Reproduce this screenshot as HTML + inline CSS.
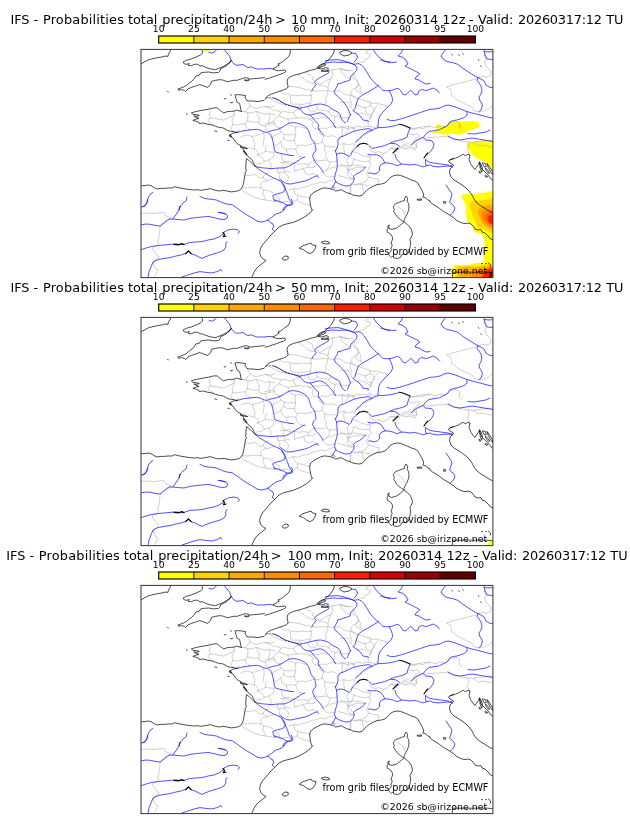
<!DOCTYPE html>
<html><head><meta charset="utf-8"><title>IFS probabilities</title>
<style>
html,body{margin:0;padding:0;background:#fff;}
body{width:630px;height:828px;overflow:hidden;position:relative;font-family:"DejaVu Sans","Liberation Sans",sans-serif;color:#000;}
svg{position:absolute;left:0;top:0;}
svg text{font-family:"DejaVu Sans","Liberation Sans",sans-serif;fill:#000;}
.t{font-size:12.88px;}
.k{font-size:9.2px;}
.c{font-size:9.6px;}
.c2{font-size:9.45px;}
</style></head><body>
<svg width="630" height="828" viewBox="0 0 630 828">
<defs>
<clipPath id="clip"><rect x="141" y="49.4" width="351.9" height="228.2"/></clipPath>
<g id="map" fill="none" stroke-linejoin="round" stroke-linecap="round">
<g stroke="#a0a0a0" stroke-width="0.5"><polyline points="447.0,87.0 452.0,85.0 458.0,83.6 464.0,82.0 470.0,80.4 476.0,79.0 479.0,77.6 482.0,76.0 486.0,77.0 490.0,76.0 491.0,72.0 489.0,69.0 486.0,66.0 485.0,62.0 486.0,58.0 484.0,55.0 485.0,52.0"/>
<polyline points="447.0,87.0 450.0,89.0 452.0,93.0 451.0,95.0 455.0,98.0 459.0,101.0 463.0,103.0 467.0,105.0 470.0,106.0 473.0,108.0 475.0,111.0 479.0,112.0 484.0,111.0 489.0,109.0 492.0,106.0 494.0,105.0"/>
<polyline points="140.0,213.6 147.0,213.0 153.0,213.6 159.0,213.0 164.0,212.4 166.0,216.0 169.0,217.0 171.0,218.4 168.0,221.0 163.0,223.6 160.0,227.0 159.6,232.0 159.0,237.0 157.6,241.0 159.0,244.0 155.0,246.4 152.0,248.0 154.0,252.0 157.0,255.0 159.0,257.0 156.0,260.0 153.0,262.0 155.0,268.0 158.0,270.0 156.0,274.0 154.0,278.0"/>
<polyline points="210.0,111.4 209.3,115.0 210.7,117.9 207.9,119.3 208.6,122.1 211.4,123.6 213.6,125.0"/>
<polyline points="210.7,117.9 215.0,118.6 219.3,119.3 223.6,120.0 227.9,117.9 231.4,116.4 234.3,114.3 234.3,111.4"/>
<polyline points="234.3,113.6 233.6,117.1 232.1,120.7 232.9,124.3 231.4,127.9 232.1,130.7"/>
<polyline points="232.9,124.3 236.4,125.0 240.7,124.3 245.0,123.6 245.7,126.4 247.9,128.6 250.7,130.0"/>
<polyline points="246.4,100.7 248.6,102.9 250.0,105.7 247.9,108.6 246.4,111.4 243.6,111.4"/>
<polyline points="243.6,111.4 247.9,112.9 247.9,117.1 247.1,120.7 245.7,123.6"/>
<polyline points="247.9,112.9 252.1,112.6 256.4,111.4 260.7,112.9 265.0,114.3 269.3,113.6 275.0,115.0"/>
<polyline points="250.0,105.7 255.0,108.6 259.3,107.9 265.0,106.4 270.7,107.1 275.0,105.7"/>
<polyline points="259.3,118.6 258.6,122.1 260.0,125.0 265.0,125.7 269.3,124.3 275.0,123.6"/>
<polyline points="247.1,120.7 252.1,122.1 258.6,122.1"/>
<polyline points="269.3,113.6 270.0,117.1 268.6,120.7 269.3,124.3"/>
<polyline points="240.7,137.1 243.6,135.7 247.9,135.0 252.1,136.4 256.4,135.7 260.7,134.3 263.6,132.9"/>
<polyline points="263.6,132.9 264.3,137.1 263.6,141.4 262.9,145.7"/>
<polyline points="252.1,136.4 253.6,140.0 255.0,144.3 254.3,148.6"/>
<polyline points="265.0,125.7 266.4,129.3 267.1,132.1"/>
<polyline points="256.4,111.4 259.3,118.6"/>
<polyline points="306.4,71.7 307.9,74.3 310.7,75.4 312.9,77.1 312.1,79.3 315.0,81.1 318.1,82.9 319.3,85.0 322.1,85.7 325.7,86.4 327.9,87.9 328.6,90.7 332.1,91.4 335.7,91.1 339.3,90.7 342.1,92.1 344.3,94.3 347.9,95.0 352.1,95.7 355.0,96.9"/>
<polyline points="297.9,74.3 300.7,76.4 304.3,78.6 307.1,81.4 310.7,82.9 313.6,83.6"/>
<polyline points="288.1,87.1 292.1,86.4 296.4,87.1 300.7,87.9 305.0,89.3 309.3,90.0 312.9,90.3"/>
<polyline points="280.0,91.1 282.1,93.6 285.0,94.3 288.6,93.6 290.0,95.0 294.3,95.4 299.3,95.7 303.6,95.0 307.9,95.7 311.4,95.4"/>
<polyline points="311.4,90.7 310.7,94.3 311.4,97.9 310.7,101.4 310.0,105.7"/>
<polyline points="290.0,95.0 290.7,99.3 290.4,102.9 293.6,104.3 297.9,104.0 302.1,104.6 306.4,103.6 310.7,102.9"/>
<polyline points="311.4,90.7 316.4,91.1 322.1,90.7 327.9,90.7"/>
<polyline points="327.9,90.7 327.1,94.3 325.7,97.9 326.4,101.4 325.0,104.3"/>
<polyline points="269.3,98.3 273.6,100.7 277.9,102.9 282.1,104.3 286.4,105.4"/>
<polyline points="327.9,70.7 332.1,70.0 336.4,69.3 340.7,68.6 345.0,70.0 349.3,70.7"/>
<polyline points="332.1,70.0 332.9,74.3 331.4,77.9 329.3,81.4 327.9,87.9"/>
<polyline points="340.7,68.6 341.4,72.9 345.0,75.7 349.3,78.6"/>
<polyline points="319.3,85.0 325.0,81.4 331.4,77.9"/>
<polyline points="265.0,106.4 269.3,107.9 272.9,110.0 277.1,110.7 280.7,112.1 285.0,111.4 289.3,112.9 293.6,112.1 295.7,110.0 298.6,108.6"/>
<polyline points="293.6,112.1 294.3,115.7 297.1,117.9 300.7,117.1 303.6,118.6 306.4,117.9 309.3,119.3"/>
<polyline points="280.7,112.1 279.3,115.7 275.7,117.9 273.6,121.4 269.3,122.9 265.0,123.6"/>
<polyline points="279.3,115.7 283.6,117.9 287.9,119.3 292.1,118.6 297.1,117.9"/>
<polyline points="287.9,119.3 288.6,122.9 290.7,125.7 295.7,127.1 299.3,126.4 303.6,127.9 306.4,128.6"/>
<polyline points="273.6,121.4 275.0,125.7 279.3,127.9 282.9,127.1"/>
<polyline points="295.7,127.1 295.0,131.4 295.7,135.7 294.3,140.0 295.0,143.6 297.9,145.7 302.1,145.0 306.4,145.7 310.7,144.3"/>
<polyline points="279.3,127.9 280.7,132.1 284.3,134.3 288.6,135.0 292.9,134.3 295.3,135.7"/>
<polyline points="280.7,132.1 277.1,135.0 273.6,135.7 272.4,139.3"/>
<polyline points="284.3,134.3 283.6,138.6 280.7,142.1 277.9,144.3 274.3,145.7"/>
<polyline points="283.6,138.6 287.9,140.7 294.3,140.3"/>
<polyline points="280.7,142.1 282.1,147.1 286.4,149.3 291.4,148.6 295.7,149.3 297.9,145.7"/>
<polyline points="286.4,149.3 287.1,152.9 290.0,155.4"/>
<polyline points="295.7,149.3 297.1,153.6 300.0,156.4 302.4,157.1"/>
<polyline points="309.3,119.3 312.9,121.4 312.1,125.7 314.3,128.6 318.6,129.3"/>
<polyline points="309.3,119.3 313.6,117.9 317.9,118.6 322.1,117.1 326.4,117.9 328.6,118.3"/>
<polyline points="318.6,129.3 322.1,127.9 326.4,128.6 330.0,127.1 334.3,126.4"/>
<polyline points="318.6,129.3 320.0,133.6 323.6,135.7 327.9,136.4 332.1,135.7 336.4,137.4"/>
<polyline points="310.7,144.3 314.3,142.9 318.6,143.6 322.1,142.1 323.6,135.7"/>
<polyline points="322.1,142.1 325.0,145.7 329.3,147.1 333.6,146.4 337.1,147.9"/>
<polyline points="325.0,145.7 324.3,150.0 326.4,153.6 325.7,157.1 327.9,160.0"/>
<polyline points="316.4,104.3 317.1,108.6 320.7,110.7 325.0,110.0 328.6,111.4 331.4,108.6"/>
<polyline points="328.6,111.4 330.7,115.0 335.0,116.4 339.3,115.7 340.7,117.1"/>
<polyline points="335.0,116.4 334.3,121.4 334.3,126.4"/>
<polyline points="340.7,117.1 345.0,117.9 349.3,117.1"/>
<polyline points="334.3,126.4 338.6,127.9 342.9,127.1 347.1,128.6 351.4,127.9 355.0,128.6"/>
<polyline points="342.9,127.1 342.1,132.1 342.1,136.9"/>
<polyline points="307.9,106.4 308.6,110.0 311.4,112.1 315.0,111.4 317.1,108.6"/>
<polygon points="297.1,107.1 298.6,106.0 300.7,106.4 301.4,108.3 300.0,109.7 297.9,109.3"/>
<polyline points="241.4,188.6 242.9,191.4 245.7,192.9 249.3,194.3 252.9,196.4 257.1,198.1 261.4,199.3 265.7,200.0 270.0,200.7 274.3,201.4 280.0,202.1 285.7,201.4 290.0,202.1"/>
<polyline points="242.9,187.9 247.1,187.9 251.4,187.6 256.4,187.1 261.4,187.9 263.6,190.0 262.9,193.6 264.3,196.4 265.7,200.0"/>
<polyline points="245.7,175.0 249.3,175.7 253.6,174.3 257.1,175.7 260.0,178.6 262.9,177.6"/>
<polyline points="261.4,187.9 260.7,183.6 262.9,181.4 267.1,180.7 271.4,179.3 274.3,178.1"/>
<polyline points="262.9,177.6 265.0,174.3 268.6,172.9"/>
<polyline points="262.9,177.6 267.1,180.7"/>
<polyline points="263.6,190.0 268.6,190.7 272.9,192.9"/>
<polyline points="274.3,195.0 278.6,197.1 280.0,202.1"/>
<polyline points="255.0,165.7 257.9,162.9 261.4,163.6 264.3,161.4 262.9,158.6 260.0,156.4 257.1,155.0 258.6,152.1 256.4,150.0 252.9,148.6 248.6,147.9"/>
<polyline points="264.3,161.4 268.6,160.0 272.9,157.9 274.0,155.0 274.0,152.1"/>
<polyline points="268.6,160.0 270.7,163.6 271.4,168.6"/>
<polyline points="257.1,155.0 261.4,153.6 265.7,151.4 270.0,152.1 274.0,152.1"/>
<polyline points="265.7,151.4 265.0,147.9 267.1,145.0"/>
<polyline points="277.1,168.1 277.9,172.1 280.0,175.0 279.3,178.6"/>
<polyline points="277.9,172.1 282.9,172.9 287.1,171.4 290.0,172.1"/>
<polyline points="281.4,154.3 282.1,158.6 284.3,162.1 282.9,165.7 282.9,167.9"/>
<polyline points="284.3,162.1 290.0,161.4"/>
<polyline points="294.3,171.4 298.6,170.0 303.6,168.6 307.9,167.1 312.1,167.9 315.7,165.7"/>
<polyline points="303.6,168.6 305.0,172.9 308.6,175.0 312.9,173.6"/>
<polyline points="322.9,172.1 325.7,175.7 329.3,177.1 335.0,176.4"/>
<polyline points="322.9,172.1 327.1,170.0 331.4,167.9 336.9,166.4"/>
<polyline points="314.3,160.0 320.0,160.7 325.7,160.0 330.0,162.1 336.9,161.4"/>
<polyline points="330.0,162.1 329.3,165.7 327.1,170.0"/>
<polyline points="288.6,190.0 293.6,188.6 298.6,189.3 302.9,187.1 307.9,186.4 312.1,184.3 316.4,183.6 320.7,182.1 325.7,182.9 329.3,180.7 334.6,179.3"/>
<polyline points="293.6,188.6 294.3,192.9 297.9,195.7 302.9,196.4 307.1,197.9 310.0,197.9"/>
<polyline points="297.9,195.7 297.1,200.0 293.6,202.1 292.6,204.3"/>
<polyline points="297.1,200.0 301.4,202.9 306.4,204.3 310.7,205.7"/>
<polyline points="337.9,175.7 342.1,176.4 347.1,177.9 351.4,179.3 354.0,178.6"/>
<polyline points="348.6,156.4 347.1,161.4 348.6,165.7 347.1,170.0 350.0,173.6 353.6,176.4"/>
<polyline points="348.6,165.7 354.3,165.0 360.0,165.7 365.4,167.1"/>
<polyline points="351.4,184.3 350.7,189.3 350.0,193.6"/>
<polyline points="351.4,184.3 357.1,185.0 362.1,184.3 367.1,185.7 370.0,185.0"/>
<polyline points="362.1,184.3 362.9,189.3 364.3,192.9"/>
<polyline points="337.9,166.4 342.9,165.7 348.6,165.7"/>
<polyline points="352.1,151.4 357.1,152.9 361.4,155.0 365.7,156.4 370.0,157.1"/>
<polyline points="280.0,162.9 285.0,162.1 289.3,163.6 294.3,162.9 298.6,164.3 303.6,163.6 308.6,164.3 314.3,160.0"/>
<polyline points="294.3,162.9 294.3,171.4"/>
<polyline points="284.3,167.9 285.0,172.9 288.6,176.4 287.9,180.7"/>
<polyline points="308.6,164.3 307.9,167.1"/>
<polyline points="312.9,173.6 317.4,175.7"/>
<polyline points="340.0,68.6 344.3,70.0 348.6,70.7 352.9,70.3"/>
<polyline points="354.3,74.3 355.0,77.9 357.9,80.7 358.6,84.3 356.9,87.1 353.6,88.6 351.4,91.4 350.7,94.3 353.6,96.9 356.4,97.9"/>
<polyline points="358.6,84.3 360.7,87.1 360.0,90.7 361.4,93.6"/>
<polyline points="356.4,97.9 360.7,99.3 365.0,100.7 369.3,102.1 372.9,103.6 376.4,102.9 380.7,104.3 385.7,105.4 387.9,107.9"/>
<polyline points="350.7,94.3 350.0,98.6 351.4,102.9 350.7,107.1 353.1,110.7"/>
<polyline points="369.3,102.1 370.7,105.7 373.6,107.9 374.3,111.4 371.4,114.3 370.7,118.6"/>
<polyline points="356.0,105.0 360.0,106.4 365.0,107.9 370.7,105.7"/>
<polyline points="365.0,107.9 365.7,111.4 368.6,114.3 371.4,114.3"/>
<polyline points="340.0,102.9 344.3,102.1 350.0,102.9"/>
<polyline points="367.1,120.7 368.6,124.3 370.7,126.4 374.3,127.9 377.9,126.4"/>
<polyline points="372.1,131.0 367.9,133.1 363.6,136.0 360.0,138.9 356.4,141.7 354.3,145.0 356.4,147.1"/>
<polyline points="340.0,126.4 344.3,127.1 348.6,126.4 352.9,127.9 357.1,126.4 361.4,127.1 367.1,126.4 370.7,126.4"/>
<polyline points="348.6,126.4 347.9,130.7 345.0,133.6"/>
<polyline points="352.9,127.9 354.3,131.4"/>
<polyline points="368.6,121.4 370.7,117.9 372.1,113.6 374.3,110.0 376.4,106.4 377.9,105.0"/>
<polyline points="357.1,113.6 361.4,112.9 365.7,114.3 370.7,117.9"/>
<polyline points="340.0,144.3 344.3,143.6 348.6,145.0 352.9,143.6 354.3,145.0"/>
<polyline points="344.3,143.6 343.6,147.9 345.0,154.3"/>
<polyline points="410.0,127.9 414.3,129.3 418.6,127.9 422.9,128.6 427.1,126.4 430.0,127.1"/>
<polyline points="408.6,133.6 412.9,135.0 417.1,133.6 420.0,135.7 415.7,138.6 412.9,141.4 417.1,146.4 414.3,147.9"/>
<polyline points="369.3,146.4 370.7,150.7 375.0,152.9 378.6,151.4 382.9,153.6 387.1,152.1 390.7,147.9 394.3,149.3 397.1,152.1"/>
<polyline points="402.9,147.9 405.7,145.7 410.0,146.4 414.3,147.9"/>
<polyline points="368.6,154.3 370.7,157.9 369.3,161.4 371.4,164.3 369.3,167.1 367.9,170.7 366.4,174.3 368.6,177.1 374.3,178.6 379.3,180.0 377.9,183.6 375.7,185.4"/>
<polyline points="353.6,158.6 358.6,160.7 363.6,161.4 369.3,161.4"/>
<polyline points="348.6,170.0 352.9,168.6 357.1,167.1 361.4,167.9 365.7,167.1"/>
<polyline points="348.6,170.0 347.1,174.3 350.0,177.9 353.6,178.6"/>
<polyline points="354.3,184.3 360.0,183.6 365.0,182.1 368.6,177.1"/>
<polyline points="350.0,186.4 350.7,191.4 350.0,194.0"/>
<polyline points="340.0,164.3 344.3,165.7 348.6,170.0"/>
<polyline points="353.6,158.6 352.9,162.9 348.6,170.0"/>
<polyline points="390.0,149.0 394.0,148.0 399.0,150.0 402.0,145.6 407.0,143.6 412.0,144.4 416.0,141.0 420.0,139.6 423.0,138.0 430.0,137.6 438.0,137.0 446.0,136.4 450.0,138.0 456.0,140.0 462.0,141.0 468.0,142.0 474.0,142.4 482.0,141.0 490.0,140.4 494.0,140.0"/>
<polyline points="468.0,142.0 469.0,147.0 467.0,150.0 470.0,155.0"/>
<polyline points="474.0,142.4 478.0,146.0 484.0,145.0 490.0,147.0 494.0,146.0"/>
<polyline points="402.0,145.6 404.0,149.0 410.0,148.0 415.0,150.0 417.0,147.0 416.0,141.0"/>
<polyline points="410.0,129.6 416.0,128.0 422.0,127.0 430.0,126.0 436.0,128.0 440.0,126.0 446.0,127.0 450.0,123.0 456.0,121.0 460.0,124.0 459.0,128.0 462.0,131.0"/>
<polyline points="396.8,206.1 399.5,207.7 402.2,209.9 404.0,212.6 404.5,214.9"/>
<polyline points="369.4,49.9 366.7,51.0 365.6,52.7 368.3,53.8 370.6,55.4 369.4,57.7 366.1,58.8 365.0,61.0 362.2,62.4 358.9,62.7"/>
<polyline points="353.3,73.8 351.7,76.6 354.4,79.3 357.2,81.0 358.9,84.3 357.2,87.1 355.6,88.8 357.2,91.6 360.6,93.2"/></g>
<g stroke="#1818ff" stroke-width="0.75"><polyline points="209.0,52.4 212.0,53.2 215.0,51.6 217.0,49.0"/>
<polyline points="223.6,49.0 227.0,53.0 229.6,56.0 231.0,60.4 229.0,63.0 228.4,63.6"/>
<polyline points="231.0,60.4 233.6,63.6 236.4,65.2 240.0,65.0 243.0,64.4 245.0,66.0 248.0,67.6 251.0,66.8 254.0,68.0 258.0,69.2 261.0,68.8 264.0,69.2 268.0,68.4 273.0,68.8"/>
<polyline points="273.6,97.9 277.1,99.3 280.7,101.4 284.3,103.6 287.9,105.0 291.4,106.0 295.0,106.9 298.6,107.9 299.3,108.3 301.4,110.7 303.6,113.1 306.4,114.6 310.0,115.0 313.6,114.3 317.1,113.1 320.7,112.9 323.6,114.0 326.4,116.0 328.6,118.3 330.7,120.7 332.9,123.1 334.3,125.7 335.7,127.9"/>
<polyline points="299.3,108.3 303.6,107.4 307.9,106.4 312.1,105.4 316.4,104.3 320.7,104.0 325.0,105.0 328.6,106.4 331.4,108.6 335.0,110.7 337.9,112.1 340.0,114.3 340.7,117.1 342.1,120.0 344.3,122.1 345.7,122.6"/>
<polyline points="310.0,115.0 312.1,117.1 314.3,120.0 316.4,122.1 318.6,124.6 318.1,127.9 320.0,130.7 322.1,133.6 323.6,135.0"/>
<polyline points="238.0,131.0 237.1,132.6 240.0,131.7 243.6,130.7 247.9,130.3 252.1,129.7 256.4,129.3 260.0,130.0 262.9,131.4 266.4,132.6 268.6,131.7 272.1,130.7 276.4,129.7 280.0,128.6 283.6,126.4 286.4,124.6 290.0,122.9 293.6,122.6 297.1,123.1 300.7,124.3 304.3,126.0 307.1,128.3 308.6,130.7 309.6,133.6 310.4,136.4 311.4,138.9 313.6,141.4 315.0,144.3 315.7,147.9 316.1,150.7 313.6,152.9 312.6,156.4 314.3,160.0 316.4,163.6 319.3,166.4 321.4,169.3 322.9,172.1"/>
<polyline points="268.6,133.1 271.4,135.7 272.4,139.3 273.3,142.9 273.9,146.4 274.3,150.0 275.7,152.1 279.3,153.1 282.9,154.0 286.4,154.6 290.0,155.4 293.6,155.7"/>
<polyline points="256.0,166.7 260.0,167.6 265.7,168.1 271.4,168.6 277.1,168.1 284.3,167.9 288.6,166.4 292.1,164.3 295.7,162.1 299.3,160.0 302.1,157.9 305.0,157.1"/>
<polyline points="256.0,166.7 258.6,169.3 262.1,171.4 265.7,173.6 269.3,175.7 272.9,177.6 276.4,179.3 280.0,180.7 282.1,182.9 284.3,185.7 285.4,188.6 284.3,191.4 281.4,192.9 277.9,193.6 274.3,194.7 272.6,195.7 273.6,198.6 275.0,201.0"/>
<polyline points="281.7,182.1 284.3,187.4 286.4,191.4 287.9,195.0 288.9,198.6 290.7,201.4 292.6,204.3 290.7,205.4 287.1,205.0 284.3,207.1 282.9,210.0"/>
<polyline points="280.0,179.3 282.9,181.4 286.4,183.6 290.7,184.0 295.0,183.1 300.0,182.1 304.3,181.1 308.6,179.7 312.1,177.9 315.0,176.4 317.4,175.7 318.3,177.4"/>
<polyline points="355.7,141.9 359.3,138.6 362.1,135.7 365.0,133.6 368.6,131.4 372.1,130.4 370.7,129.3 367.9,128.6 363.6,129.3 358.6,130.0 353.6,131.4 348.6,133.6 344.3,135.7 340.0,137.1 339.3,137.9 337.9,140.7 338.1,144.3 337.1,147.9 335.7,150.7 335.0,150.0 336.4,153.6 336.9,157.9 337.1,162.1 337.4,166.4 336.4,170.7 335.0,175.0 334.6,178.6 335.7,181.4 334.3,184.3 332.9,186.4 331.4,188.3"/>
<polyline points="332.9,186.4 335.0,188.6"/>
<polyline points="378.6,127.6 375.0,128.6 372.1,130.4"/>
<polyline points="336.9,154.3 340.0,152.9 343.6,153.6 346.4,155.0 349.3,156.4 351.4,154.3 352.1,151.4 354.3,149.3 356.4,147.1"/>
<polyline points="335.7,181.7 338.6,183.6 342.1,185.0 345.7,186.0 349.3,185.7 351.4,184.3 353.6,181.4 354.3,178.6 353.6,176.4 355.7,174.3 359.3,172.6 362.1,170.7 364.3,168.6 365.4,167.1"/>
<polyline points="325.0,61.0 330.0,60.0 338.0,59.6 344.0,61.0 350.0,63.0 355.0,65.0 357.1,67.9 356.4,70.7 353.6,73.6 350.7,76.4 350.0,80.0 347.1,81.1 343.6,82.1 340.0,83.6 337.9,83.6 337.1,86.4 335.7,88.6 334.3,91.4 335.3,94.3 337.9,96.4 340.7,99.3 343.6,102.1 345.7,105.0 347.9,108.6 349.3,112.1 350.7,115.0 350.7,114.3 349.3,117.1 347.9,120.0 347.6,121.4"/>
<polyline points="326.0,63.0 332.0,62.0 340.0,62.4 344.3,62.1 350.0,62.9 354.3,64.3 358.6,63.6 361.4,65.0 364.3,67.9 366.4,71.4 368.6,75.0 370.7,78.6 373.6,81.4 376.4,84.3 378.3,85.7 380.7,88.3 382.9,90.3 385.7,90.7 389.3,90.7 390.7,93.6 392.1,97.1 392.6,100.7 390.7,104.3 386.4,108.6 382.9,112.1 380.0,115.7 378.6,119.3 378.3,122.9 377.9,126.4 378.6,127.6 382.9,127.6 387.1,127.1 391.4,126.4 395.0,125.7 398.6,124.7"/>
<polyline points="389.3,90.7 392.9,90.0 396.4,88.6 398.6,88.6 400.7,90.7 402.9,94.3 405.7,95.0 408.6,92.1 410.7,90.3 412.9,92.1 415.0,95.0 417.9,94.3 418.6,91.4 421.4,89.3 425.7,90.7 430.0,89.3 433.0,88.0 437.0,90.0 439.6,93.0"/>
<polyline points="378.3,85.7 375.0,87.9 371.4,90.0 367.9,92.1 364.3,94.0 361.4,95.7 358.6,97.9 357.1,101.4 356.0,105.0 355.0,108.6 353.1,110.7 355.0,112.1 357.9,114.0 360.7,116.4 362.1,118.6 362.9,120.0 367.1,120.7 368.6,121.4"/>
<polyline points="352.0,53.0 356.0,53.6 357.6,57.0 356.0,60.0 354.0,62.0"/>
<polyline points="373.0,49.0 376.0,54.0 380.0,58.0 384.0,61.0 390.0,63.0"/>
<polyline points="327.9,70.7 328.6,72.9 325.0,75.0 321.4,76.9 318.6,78.6 315.7,80.7 314.3,82.6 316.4,84.3 315.0,86.4 312.9,88.6 312.1,90.3"/>
<polyline points="380.7,60.0 384.3,61.1 388.6,61.7 392.9,62.6 396.4,62.1"/>
<polyline points="403.0,49.0 401.0,53.0 398.0,56.0 402.0,57.0 406.0,60.0 408.0,64.0 405.0,66.0 409.0,68.0 413.0,70.0 417.0,72.0 420.0,74.0 416.0,77.0 415.0,79.0 419.0,80.0 422.0,82.0 426.0,84.0 430.0,83.6"/>
<polyline points="387.1,119.3 390.7,120.7 395.0,120.4 399.3,119.3 403.6,118.1 407.9,116.7 412.1,115.3 416.4,113.9 420.7,112.4 425.7,110.7 430.0,109.3 435.0,109.0 440.0,108.0 444.0,106.0 448.0,105.0 452.0,106.0 457.0,107.6 462.0,109.6 467.0,111.6 472.0,113.0 476.0,114.0 480.0,115.0 485.0,116.4 490.0,117.6 494.0,118.0"/>
<polyline points="467.0,111.6 467.0,115.0 464.0,117.6 460.0,119.0 457.0,120.0 454.0,120.4 450.0,121.6 448.0,125.0 445.0,127.0 442.0,128.4 439.0,130.0"/>
<polyline points="446.0,49.0 443.0,53.0 441.0,56.0 443.0,59.0 447.0,61.6 452.0,62.4 457.0,64.0 460.0,66.0 463.0,68.4 467.0,71.0 471.0,73.6 475.0,76.0 478.0,77.6 477.0,80.4 479.0,83.0 481.0,86.0 482.0,90.0 481.0,94.0 479.0,97.0 479.6,100.0 481.6,103.0 482.4,106.0 481.0,110.0 479.0,111.6"/>
<polyline points="478.0,77.6 481.0,79.0 484.0,81.0 486.0,85.0 489.0,87.0 494.0,88.0"/>
<polyline points="484.0,51.0 488.0,52.0 494.0,51.6"/>
<polyline points="484.0,51.0 485.0,55.0 487.0,59.0 494.0,59.6"/>
<polyline points="410.0,127.9 409.3,130.0 407.9,133.6 407.1,137.1 402.9,139.3 398.6,140.4 394.3,141.4 390.7,142.9 387.9,144.3 384.3,145.7 380.0,146.7 375.7,147.6 372.1,148.6 370.7,147.1 369.3,145.7"/>
<polyline points="411.4,145.0 413.6,142.4 416.4,140.4 420.0,138.6 423.6,137.1 425.7,134.3 427.9,132.1 430.0,131.4 432.0,131.0 438.0,130.0"/>
<polyline points="423.6,138.1 425.7,140.0 430.0,140.4 432.0,141.0 434.0,144.0 433.0,148.0 431.0,151.0 429.0,153.0"/>
<polyline points="390.7,143.3 395.0,143.6 397.9,145.0 399.7,147.1"/>
<polyline points="395.0,154.3 395.0,155.0 396.4,158.6 398.6,161.4 401.4,164.0"/>
<polyline points="367.9,154.3 372.1,155.0 376.4,154.6 380.7,156.4 382.9,159.3 385.0,162.9 389.3,163.1 393.6,164.3 397.1,165.7 401.4,164.0 405.7,164.3 410.0,165.0 414.3,164.3 418.6,165.4 422.9,166.9 426.4,165.7 430.0,165.0 432.0,166.0 438.0,167.0 443.0,166.4 448.0,166.0 453.0,167.0"/>
<polyline points="385.0,162.9 381.4,164.3 379.3,167.1 379.7,170.7 377.4,172.9 374.3,174.0 370.7,172.9 368.6,173.1"/>
<polyline points="425.7,159.3 425.4,162.9 426.4,165.7"/>
<polyline points="426.0,160.0 429.0,162.0 433.0,163.0 438.0,163.6 443.0,164.4 448.0,165.0 452.0,166.0"/>
<polyline points="448.0,136.0 454.0,139.0 460.0,140.0 466.0,139.0 472.0,138.0 478.0,139.0 484.0,140.0 490.0,141.0 494.0,141.6"/>
<polyline points="468.0,133.6 474.0,134.0 480.0,133.0 486.0,132.0 490.0,130.0"/>
<polyline points="446.0,185.0 448.0,188.0 450.0,191.0 452.0,194.0 451.0,198.0 449.6,202.0 450.4,203.0 453.0,205.0 455.0,208.0 454.0,211.0 452.0,213.6 450.4,215.0"/>
<polyline points="153.0,192.4 150.0,194.4 148.0,198.0 147.0,202.0 145.0,205.6 141.6,207.0 145.0,206.0 147.0,203.0 148.0,200.0"/>
<polyline points="187.0,197.0 186.0,201.0 183.0,203.0 180.4,206.0 179.0,210.0 180.0,206.0 179.0,210.0 177.0,213.0 175.0,216.0 173.0,219.0"/>
<polyline points="200.0,196.4 203.6,198.1 207.9,199.0 212.1,199.3 216.4,200.0 220.7,201.9 225.0,203.6 228.6,204.3 232.1,204.7 237.0,208.0 241.0,211.0 243.0,212.4 248.0,215.6 253.0,218.4 257.0,221.0 261.0,222.0 264.0,221.6 268.0,220.0 270.0,222.4 273.0,224.0 273.6,227.0 272.0,229.0 274.4,231.6"/>
<polyline points="218.0,212.4 222.0,213.0 226.0,214.0"/>
<polyline points="140.0,225.2 146.0,224.0 151.0,224.4 156.0,225.6 160.0,226.0 163.0,223.6 166.0,221.0 169.0,219.0 173.0,219.0 178.0,219.6 184.0,220.0 190.0,218.4 196.0,217.6 202.0,217.0 208.0,216.4 214.0,217.6 219.0,219.0 224.0,219.6 227.0,218.4 227.6,215.6 225.0,213.6 222.0,213.0 219.0,212.4"/>
<polyline points="140.0,250.0 146.0,248.0 152.0,246.4 158.0,245.6 164.0,245.0 170.0,244.4 175.0,244.0 184.0,244.4 190.0,242.4 196.0,242.0 202.0,241.6 208.0,240.0 214.0,239.0 219.0,237.0 223.0,234.4 224.0,232.0 228.0,230.0 233.0,229.0 237.0,229.6 239.6,231.6 238.0,233.6"/>
<polyline points="148.0,278.0 149.0,272.0 151.0,267.0 153.0,262.0 158.0,259.6 164.0,258.4 170.0,257.6 176.0,256.0 181.0,255.0 185.0,253.6 188.4,251.2 191.0,253.6 195.0,255.0 199.0,257.0 202.0,258.4 205.0,257.0 210.0,255.0 215.0,253.6 220.0,252.0 224.0,250.0 226.0,247.0 225.6,244.0 227.0,241.6"/>
<polyline points="182.0,277.0 188.0,275.0 194.0,273.0 200.0,271.6 206.0,272.4 212.0,273.0 217.0,271.6 221.0,269.6 221.6,271.0"/>
<polyline points="268.0,220.0 272.0,217.0 276.0,214.0 281.0,212.4 284.0,210.0 286.0,207.0 289.0,205.0 292.0,203.6 292.4,201.0 291.0,199.0"/>
<polyline points="274.0,200.0 278.0,201.0 283.0,203.0 287.0,205.0"/></g>
<g stroke="#000" stroke-width="0.7"><polyline points="140.0,64.0 141.6,63.6 145.0,61.6 149.0,59.6 154.0,58.4 158.0,57.6 162.0,57.0 165.0,56.0 168.0,56.4 168.4,54.0 170.4,51.0 171.0,49.0"/>
<polyline points="202.1,48.1 202.1,50.3 202.6,53.1 200.0,55.3 195.7,57.1 191.4,58.9 186.4,60.3 183.1,62.0 184.3,63.9 187.1,64.3 189.3,63.4 188.3,65.3 191.4,65.7 194.3,64.3 197.9,64.3 200.0,66.0 202.1,65.7 204.3,66.7 207.9,68.1 211.4,69.1 215.7,69.6 219.3,68.1 222.9,66.7 226.4,64.6 229.3,62.9 231.4,60.3 229.3,63.1 227.1,65.3 223.6,67.4 220.7,68.6 220.0,71.0 218.6,72.4 213.6,72.9 208.6,72.0 203.6,72.4 200.7,72.9 199.3,75.3 195.7,76.0 194.3,78.6 192.1,81.0 189.3,82.9 187.1,84.9 184.3,86.7 180.7,88.1 177.9,88.9 178.6,90.3 181.4,89.6 184.3,90.3 185.7,91.7 187.9,88.9 191.4,87.4 195.7,86.0 199.3,84.6 200.3,85.1 201.4,84.9 203.6,86.0 207.9,87.4 210.7,84.3 211.4,81.4 215.7,80.3 220.0,79.6 223.6,80.3 227.1,81.7 230.7,81.0 233.6,80.3 237.1,80.3 240.7,79.1 243.6,78.1 246.4,77.7 249.3,78.6 247.1,80.3 244.3,80.0 247.9,81.0 250.3,79.1 254.3,78.6 260.0,78.1 264.4,77.6"/>
<polyline points="265.0,79.3 268.6,78.3 272.1,77.1 276.4,75.7 280.0,74.3 283.6,73.1 285.7,71.7 285.0,70.0 282.1,70.3 278.6,70.7 275.0,70.0 272.9,68.9 275.0,67.9 277.1,66.4 279.3,65.0 277.9,64.0 280.7,62.9 282.9,61.4 284.3,60.0 287.0,58.4 289.6,55.0 290.4,52.0 290.0,49.0"/>
<polyline points="167.6,91.6 168.4,91.8"/>
<polyline points="224.2,99.0 225.8,98.6"/>
<polyline points="230.6,102.6 232.6,102.4 232.0,103.0"/>
<polyline points="230.6,95.0 231.4,95.0"/>
<polyline points="264.0,100.4 258.0,101.6 253.0,101.0 249.0,101.0 247.0,100.4 245.0,97.6 245.6,95.6 242.0,95.0 238.0,94.6 235.0,95.0 236.0,98.4 237.0,102.0 239.6,103.6 240.4,107.0 241.0,110.4 242.0,111.6 240.0,111.1 236.4,110.0 234.3,111.1 230.7,111.4 227.1,111.7 223.6,112.9 221.4,111.4 219.3,109.7 217.1,107.9 213.6,107.9 210.0,108.9 203.6,110.0 197.9,111.1 193.6,112.1 191.4,112.9 192.9,114.3 195.7,114.6 199.3,115.4 197.1,116.3 193.9,116.0 196.1,117.4 199.0,118.3 195.3,119.4 192.9,120.3 195.7,121.1 198.6,122.1 199.3,123.6 202.1,123.1 203.6,123.1 207.9,124.3 212.1,125.0 215.7,126.4 219.3,127.4 222.9,127.9 225.7,129.3 227.9,130.7 231.4,131.4 234.3,131.7 237.1,132.6 233.6,132.9 230.7,134.3 230.4,136.4 232.9,137.9 234.3,140.0 235.7,142.1 238.1,144.3 241.4,146.0"/>
<polyline points="265.0,99.3 266.1,97.9 267.9,95.7 271.4,94.0 275.7,92.6 280.0,91.1 283.6,90.0 286.4,88.6 288.1,87.1 287.6,84.3 287.1,81.4 287.9,78.6 290.0,76.9 293.6,75.4 297.9,74.3 302.1,73.1 306.4,71.7 310.7,70.3 315.0,69.3 317.9,67.9 320.0,66.4 322.1,65.0 324.3,63.6"/>
<polyline points="324.0,64.0 327.0,61.0 330.0,58.4 332.4,55.0 334.0,52.0 334.4,49.0"/>
<polyline points="317.0,67.6 320.0,65.0 323.0,63.6 326.0,64.4 324.0,66.0 321.0,67.0 318.0,68.4 322.0,69.0 326.0,67.6 328.4,68.4 327.6,70.4 324.0,70.0 321.0,71.0 325.0,71.6 329.0,71.0"/>
<polygon points="340.0,52.0 344.0,50.4 349.0,51.0 352.0,53.0 349.0,55.0 344.0,56.0 341.0,54.4"/>
<polyline points="240.7,146.4 242.9,148.6 244.6,151.4 246.4,154.3 247.9,156.4 250.0,158.1 252.1,160.0 253.6,162.9 255.0,165.7 256.0,166.7 255.0,166.4 252.1,163.6 249.3,160.7 246.4,158.6 246.0,163.6 245.7,168.6 246.6,170.4 245.4,171.3 245.0,175.0 244.0,180.7 242.9,185.7 241.4,188.6 239.3,190.4 235.7,191.4 231.4,191.9 227.1,191.0 222.9,190.4 218.6,191.0 214.3,190.0 210.0,188.6 205.7,189.6 200.0,190.4 198.0,189.6 194.0,190.0 190.0,189.6 186.0,189.0 182.0,188.4 178.0,187.6 175.0,186.6 172.0,188.0 168.0,188.0 164.0,188.4 160.0,188.4 157.0,189.0 154.0,187.6 151.0,185.6 148.0,185.0 145.0,185.6 140.0,185.6"/>
<polygon points="240.7,146.9 244.3,147.1 247.6,148.6 245.0,148.3 242.1,147.7"/>
<polygon points="243.6,151.0 245.6,152.4 247.0,155.0 245.6,154.4 244.0,152.4"/>
<polyline points="227.9,140.3 229.3,140.4"/>
<polyline points="214.7,130.9 216.7,131.4"/>
<polyline points="186.4,114.0 187.3,114.1"/>
<polygon points="229.6,135.0 231.0,135.4 231.4,137.1 230.1,136.6"/>
<polyline points="312.1,210.0 310.7,206.4 310.0,202.1 309.7,197.9 310.7,195.0 313.6,192.6 317.1,190.7 320.7,188.9 324.3,187.9 327.9,188.3 330.7,188.9 333.6,189.7 335.7,191.1 338.6,190.3 341.4,189.7 343.6,191.1 346.4,192.6 350.0,193.6 352.9,195.0 356.4,195.7 359.3,196.0 362.1,195.4 364.3,192.9 366.4,190.7 368.6,188.9 370.0,187.9 370.0,187.9 373.6,186.0 377.1,184.6 381.4,184.0 385.0,182.9 387.9,180.3 390.3,177.4 393.6,175.7 397.1,175.0 400.7,175.4 404.3,176.9 407.9,178.3 411.4,180.0 415.0,181.1 417.9,183.1 419.7,186.4 421.4,189.3 422.9,192.1 423.6,195.0 422.9,197.1 425.7,197.9 427.9,200.0 430.0,200.7 430.0,202.0 433.0,204.4 436.0,206.0 439.0,208.0 442.0,210.4 445.0,212.4 448.0,214.0 451.0,216.0 454.0,218.0 456.0,220.0 459.0,221.6 462.0,223.0 465.0,223.6 468.0,223.0 471.0,224.0 473.0,226.0 475.0,229.0 478.0,230.0 481.0,229.6 482.0,232.0 485.0,233.0 487.0,235.0 489.0,237.0 490.4,239.0 494.0,240.0"/>
<polyline points="494.0,181.0 491.0,179.0 488.0,175.0 484.0,171.0 481.0,168.0 479.6,162.0 478.2,164.6 474.8,169.6 471.0,164.6 469.0,159.6 470.0,155.0 468.2,154.4 465.6,155.6 462.6,154.4 458.4,157.0 454.2,158.6 450.0,160.0 448.4,161.0 450.0,163.0 453.6,165.0 452.0,167.0 450.0,169.0 449.6,173.0 451.0,177.0 454.0,180.0 458.0,182.4 462.0,185.0 466.0,188.0 469.0,191.0 472.0,195.0 474.0,199.0 477.0,203.0 481.0,206.0 485.0,208.4 489.0,211.0 493.0,213.0"/>
<polygon points="479.6,162.0 481.3,164.6 482.5,168.8 481.7,172.2 480.4,168.8 479.6,164.6"/>
<polygon points="483.0,162.9 485.5,163.7 486.3,166.3 484.2,166.7 483.0,164.6"/>
<polygon points="485.5,168.0 488.0,170.5 489.7,173.0 488.5,173.5 486.3,170.5"/>
<polygon points="487.2,163.7 489.7,167.1 492.3,171.3 492.7,174.7 491.0,172.2 488.5,168.0"/>
<polygon points="485.5,175.6 487.6,176.4 487.2,177.3 485.5,176.6"/>
<polygon points="479.6,171.3 480.6,172.6 480.0,173.5 479.2,172.2"/>
<polyline points="450.0,159.7 451.7,159.0 453.4,158.3"/>
<polygon points="406.3,196.3 407.6,198.2 407.2,201.3 408.5,203.6 409.0,206.3 408.8,209.0 408.1,211.7 407.2,214.0 405.8,216.3 404.9,218.1 404.3,219.9 403.7,221.7 402.2,220.8 400.4,219.4 398.6,218.1 397.2,216.7 395.9,214.9 394.9,213.1 393.6,211.3 394.5,209.5 393.4,207.7 394.0,205.4 395.9,203.6 398.6,202.5 401.7,201.3 404.5,200.4 404.5,199.1 405.4,196.8"/>
<polygon points="417.6,199.2 421.6,199.0 421.6,200.2 417.6,200.2"/>
<polygon points="444.0,201.6 445.6,201.6 445.6,203.2 444.0,203.2"/>
<polygon points="404.0,221.9 407.2,224.4 409.9,227.1 411.2,229.4 412.2,232.1 412.4,234.8 411.2,237.1 409.9,239.4 410.6,242.1 410.3,245.3 409.9,248.0 409.2,250.7 408.1,253.4 405.8,254.8 404.0,253.9 401.7,254.8 400.4,257.5 397.7,258.4 394.5,258.1 392.7,256.6 391.3,257.5 389.5,255.7 388.2,253.9 390.0,252.5 391.3,250.2 390.9,248.0 392.2,245.7 391.3,243.4 391.8,241.2 392.7,238.9 392.2,236.6 390.9,234.4 389.1,233.0 387.2,232.1 387.1,229.9 388.2,228.0 387.7,226.2 389.5,224.9 388.6,226.2 389.1,228.5 391.3,229.4 394.0,228.9 396.8,227.9 399.0,226.2 401.3,224.4 403.1,222.8"/>
<polyline points="481.4,263.6 482.6,263.6"/><polyline points="485.6,263.4 486.6,263.4"/><polyline points="488.4,263.0 490.0,264.4 490.8,266.0 490.0,267.2"/>
<polyline stroke-width="0.7" points="452.4,279 452.4,272.2 488,272.2 493,272.8"/>
<g stroke-width="1.1"><polyline points="424.0,158.0 426.0,155.0 428.0,153.0"/><polyline points="393.0,153.0 396.0,150.0 398.0,148.0"/><polyline points="399.3,124.3 402.9,125.0 406.4,126.4 410.0,127.9"/><polyline points="357.1,146.4 359.3,144.3 363.6,143.3 367.9,144.3"/></g>
<polyline points="312.4,210.0 310.0,213.0 306.0,216.0 302.0,218.4 298.0,220.4 293.0,222.4 288.0,223.6 283.0,225.0 279.0,227.0 276.0,230.0 274.0,232.0 273.0,233.0 270.0,236.0 267.6,239.0 265.0,242.0 262.4,245.0 260.4,249.0 259.6,253.0 261.0,257.0 264.0,259.6 266.0,260.4 263.0,263.0 259.0,266.0 256.0,269.0 253.6,273.0 251.6,278.0"/>
<polygon points="299.6,248.0 303.0,245.6 307.0,244.4 311.0,243.0 312.4,245.0 316.0,245.6 315.0,249.0 313.0,252.0 310.0,253.6 307.0,252.4 304.0,250.0"/>
<polygon points="321.6,242.0 325.0,241.0 329.0,242.0 329.6,243.6 326.0,244.0 322.4,243.2"/>
<polygon points="282.4,258.0 285.0,256.0 288.0,256.4 288.4,258.4 286.0,260.0 283.6,260.0"/>
<polyline points="451.6,54.4 452.4,55.0"/>
<polyline points="458.6,54.8 459.4,55.4"/>
<polyline points="462.6,53.6 463.4,54.2"/>
<polyline points="478.2,59.6 479.0,60.2"/>
<polyline points="480.6,66.0 481.4,66.6"/>
<g stroke-width="1.2"><polyline points="174.0,244.4 179.0,244.8 182.0,243.6 184.0,244.8"/><polyline points="223.0,232.4 224.4,234.4 223.6,236.8 226.0,236.0"/><polyline points="185.6,253.6 188.4,251.0 191.2,253.6"/></g>
<g stroke-width="0.6" stroke-dasharray="1.2 1.8"><polyline points="266.1,97.9 269.3,97.4 273.6,98.0 277.1,99.4 280.7,101.6 284.3,103.7 287.9,105.1 291.4,106.1 295.0,107.0 298.1,107.9"/></g></g>
</g>
</defs>

<g transform="translate(0,0)">
<text class="t" y="23.9"><tspan x="10.40">IFS</tspan> <tspan x="33.60">-</tspan> <tspan x="42.90" textLength="81.0" lengthAdjust="spacing">Probabilities</tspan> <tspan x="127.95">total</tspan> <tspan x="162.30">precipitation/24h</tspan> <tspan x="274.90">&gt;</tspan> <tspan x="291.10">10</tspan> <tspan x="310.50">mm,</tspan> <tspan x="344.50">Init:</tspan> <tspan x="374.10" textLength="64.1" lengthAdjust="spacing">20260314</tspan> <tspan x="442.30">12z</tspan> <tspan x="469.10">-</tspan> <tspan x="477.90">Valid:</tspan> <tspan x="518.00" textLength="84.0" lengthAdjust="spacing">20260317:12</tspan> <tspan x="606.20">TU</tspan></text>
<rect x="158.70" y="36" width="35.19" height="7" fill="#ffff00"/>
<rect x="193.89" y="36" width="35.19" height="7" fill="#ffd400"/>
<rect x="229.08" y="36" width="35.19" height="7" fill="#ffaa00"/>
<rect x="264.27" y="36" width="35.19" height="7" fill="#ff8c00"/>
<rect x="299.46" y="36" width="35.19" height="7" fill="#ff6600"/>
<rect x="334.64" y="36" width="35.19" height="7" fill="#ff1e00"/>
<rect x="369.83" y="36" width="35.19" height="7" fill="#d40000"/>
<rect x="405.02" y="36" width="35.19" height="7" fill="#9a0000"/>
<rect x="440.21" y="36" width="35.19" height="7" fill="#5f0000"/>
<line x1="193.89" y1="36" x2="193.89" y2="43" stroke="#000" stroke-width="0.9"/>
<line x1="229.08" y1="36" x2="229.08" y2="43" stroke="#000" stroke-width="0.9"/>
<line x1="264.27" y1="36" x2="264.27" y2="43" stroke="#000" stroke-width="0.9"/>
<line x1="299.46" y1="36" x2="299.46" y2="43" stroke="#000" stroke-width="0.9"/>
<line x1="334.64" y1="36" x2="334.64" y2="43" stroke="#000" stroke-width="0.9"/>
<line x1="369.83" y1="36" x2="369.83" y2="43" stroke="#000" stroke-width="0.9"/>
<line x1="405.02" y1="36" x2="405.02" y2="43" stroke="#000" stroke-width="0.9"/>
<line x1="440.21" y1="36" x2="440.21" y2="43" stroke="#000" stroke-width="0.9"/>
<rect x="158.70" y="36" width="316.70" height="7" fill="none" stroke="#000" stroke-width="1.15"/>
<text class="k" x="158.70" y="31.6" text-anchor="middle">10</text>
<text class="k" x="193.89" y="31.6" text-anchor="middle">25</text>
<text class="k" x="229.08" y="31.6" text-anchor="middle">40</text>
<text class="k" x="264.27" y="31.6" text-anchor="middle">50</text>
<text class="k" x="299.46" y="31.6" text-anchor="middle">60</text>
<text class="k" x="334.64" y="31.6" text-anchor="middle">70</text>
<text class="k" x="369.83" y="31.6" text-anchor="middle">80</text>
<text class="k" x="405.02" y="31.6" text-anchor="middle">90</text>
<text class="k" x="440.21" y="31.6" text-anchor="middle">95</text>
<text class="k" x="475.40" y="31.6" text-anchor="middle">100</text>
<g clip-path="url(#clip)">
<polygon fill="#ffff00" points="494.0,190.9 489.2,191.5 485.6,192.3 481.9,193.0 478.3,193.5 474.7,194.3 471.1,194.5 467.4,193.9 463.8,194.3 461.6,195.1 461.4,196.9 462.6,199.3 464.4,202.3 465.6,205.4 466.2,209.0 465.6,212.0 466.2,215.0 466.8,218.0 467.4,221.1 468.6,222.9 471.7,224.1 473.5,226.5 472.9,229.5 474.1,231.9 477.1,233.1 480.7,233.7 483.1,235.0 483.7,238.0 484.3,241.6 485.0,245.2 484.6,248.8 484.3,252.5 484.1,256.1 483.7,259.7 483.1,262.7 480.7,263.3 477.1,263.1 473.5,263.6 469.9,264.5 466.2,265.1 462.6,265.5 459.0,265.3 455.4,265.1 453.6,266.4 452.7,269.4 452.3,273.0 452.3,277.8 494.0,277.8"/>
<polygon fill="#ffd400" points="494.0,198.1 489.2,199.3 485.6,199.9 481.9,200.3 478.3,200.5 474.7,200.8 471.7,201.5 469.9,202.9 469.3,205.4 470.1,208.4 471.3,211.4 472.5,215.0 474.1,218.6 475.7,222.3 477.3,225.9 480.1,228.3 483.7,229.5 487.4,230.7 490.4,232.5 494.0,233.7"/>
<polygon fill="#ffaa00" points="494.0,203.6 489.2,204.8 485.6,205.6 481.9,206.8 478.9,208.7 477.7,211.4 478.3,214.4 479.5,217.4 480.7,220.5 482.5,223.5 485.0,225.9 488.0,227.7 491.0,229.5 494.0,230.7"/>
<polygon fill="#ff8800" points="494.0,207.8 489.2,209.0 485.6,210.2 482.5,211.6 481.3,214.4 481.9,217.4 483.4,220.5 485.6,222.9 488.0,224.9 490.4,226.9 494.0,228.3"/>
<polygon fill="#ff6600" points="494.0,210.8 489.8,211.6 486.8,212.9 485.0,215.0 485.3,218.0 486.8,221.1 488.6,223.2 491.0,225.3 494.0,226.5"/>
<polygon fill="#ff2000" points="494.0,214.4 490.4,215.3 488.0,216.8 487.4,219.3 488.2,221.7 489.8,223.5 494.0,224.9"/>
<polygon fill="#ffd400" points="455.2,277.9 455.7,267.4 459.0,266.0 464.8,265.5 470.5,266.0 476.2,265.7 481.0,265.3 484.8,264.5 487.6,264.0 491.9,263.6 494.3,263.6 494.3,277.9"/>
<polygon fill="#ffaa00" points="459.0,277.9 459.5,269.3 462.9,267.4 468.6,267.2 474.3,267.4 480.0,266.9 484.8,266.4 489.5,266.0 494.3,265.7 494.3,277.9"/>
<polygon fill="#ff8800" points="471.4,277.9 472.4,273.1 476.2,271.2 481.0,269.8 485.7,268.3 489.5,267.4 494.3,266.9 494.3,277.9"/>
<polygon fill="#ff2000" points="481.9,277.9 482.9,273.6 485.2,271.2 488.1,269.3 491.0,268.3 494.3,268.1 494.3,277.9"/>
<polygon fill="#9a0000" points="488.6,277.9 489.0,274.0 490.5,271.7 494.3,270.7 494.3,277.9"/>
<polygon fill="#ffff00" points="435.9,125.2 437.8,124.0 439.7,124.6 441.0,126.5 444.1,126.5 446.7,125.9 448.6,122.7 451.7,121.4 456.8,121.2 461.9,121.4 467.0,121.2 472.1,121.2 476.5,121.7 479.4,123.3 479.7,125.9 477.8,127.8 474.6,129.0 470.8,130.1 467.6,131.0 465.1,132.9 461.9,133.9 458.1,134.8 454.3,134.1 450.5,133.9 446.7,134.4 443.5,134.8 441.0,134.1 439.0,132.6 436.5,133.5 433.3,133.9 432.1,132.9 434.0,131.6 436.5,130.3 437.1,128.4 435.9,127.1"/>
<polygon fill="#ffff00" points="467.2,143.7 469.5,142.4 473.3,141.7 478.4,141.1 483.5,140.5 488.6,140.2 494.9,140.5 494.9,171.0 492.6,171.0 491.1,169.7 490.5,166.5 488.6,164.6 486.0,162.7 482.9,160.8 479.7,159.8 476.5,158.3 474.0,156.3 471.4,153.8 469.5,151.3 468.0,148.7 467.0,146.2"/>
<polygon fill="#ffff00" points="202.0,48.0 211.0,48.0 210.4,50.0 208.0,52.0 204.0,51.6"/>
<circle cx="460" cy="126.4" r="1.3" fill="#ffd400"/>
<use href="#map"/>
</g>
<rect x="141" y="49.4" width="351.9" height="228.2" fill="none" stroke="#333" stroke-width="1"/>
<text class="c" x="488.4" y="254.7" text-anchor="end">from grib files provided by ECMWF</text>
<text class="c2" x="487.2" y="273.9" text-anchor="end">©2026 sb@irizone.net</text>
</g>
<g transform="translate(0,268)">
<text class="t" y="23.9"><tspan x="10.40">IFS</tspan> <tspan x="33.60">-</tspan> <tspan x="42.90" textLength="81.0" lengthAdjust="spacing">Probabilities</tspan> <tspan x="127.95">total</tspan> <tspan x="162.30">precipitation/24h</tspan> <tspan x="274.90">&gt;</tspan> <tspan x="291.10">50</tspan> <tspan x="310.50">mm,</tspan> <tspan x="344.50">Init:</tspan> <tspan x="374.10" textLength="64.1" lengthAdjust="spacing">20260314</tspan> <tspan x="442.30">12z</tspan> <tspan x="469.10">-</tspan> <tspan x="477.90">Valid:</tspan> <tspan x="518.00" textLength="84.0" lengthAdjust="spacing">20260317:12</tspan> <tspan x="606.20">TU</tspan></text>
<rect x="158.70" y="36" width="35.19" height="7" fill="#ffff00"/>
<rect x="193.89" y="36" width="35.19" height="7" fill="#ffd400"/>
<rect x="229.08" y="36" width="35.19" height="7" fill="#ffaa00"/>
<rect x="264.27" y="36" width="35.19" height="7" fill="#ff8c00"/>
<rect x="299.46" y="36" width="35.19" height="7" fill="#ff6600"/>
<rect x="334.64" y="36" width="35.19" height="7" fill="#ff1e00"/>
<rect x="369.83" y="36" width="35.19" height="7" fill="#d40000"/>
<rect x="405.02" y="36" width="35.19" height="7" fill="#9a0000"/>
<rect x="440.21" y="36" width="35.19" height="7" fill="#5f0000"/>
<line x1="193.89" y1="36" x2="193.89" y2="43" stroke="#000" stroke-width="0.9"/>
<line x1="229.08" y1="36" x2="229.08" y2="43" stroke="#000" stroke-width="0.9"/>
<line x1="264.27" y1="36" x2="264.27" y2="43" stroke="#000" stroke-width="0.9"/>
<line x1="299.46" y1="36" x2="299.46" y2="43" stroke="#000" stroke-width="0.9"/>
<line x1="334.64" y1="36" x2="334.64" y2="43" stroke="#000" stroke-width="0.9"/>
<line x1="369.83" y1="36" x2="369.83" y2="43" stroke="#000" stroke-width="0.9"/>
<line x1="405.02" y1="36" x2="405.02" y2="43" stroke="#000" stroke-width="0.9"/>
<line x1="440.21" y1="36" x2="440.21" y2="43" stroke="#000" stroke-width="0.9"/>
<rect x="158.70" y="36" width="316.70" height="7" fill="none" stroke="#000" stroke-width="1.15"/>
<text class="k" x="158.70" y="31.6" text-anchor="middle">10</text>
<text class="k" x="193.89" y="31.6" text-anchor="middle">25</text>
<text class="k" x="229.08" y="31.6" text-anchor="middle">40</text>
<text class="k" x="264.27" y="31.6" text-anchor="middle">50</text>
<text class="k" x="299.46" y="31.6" text-anchor="middle">60</text>
<text class="k" x="334.64" y="31.6" text-anchor="middle">70</text>
<text class="k" x="369.83" y="31.6" text-anchor="middle">80</text>
<text class="k" x="405.02" y="31.6" text-anchor="middle">90</text>
<text class="k" x="440.21" y="31.6" text-anchor="middle">95</text>
<text class="k" x="475.40" y="31.6" text-anchor="middle">100</text>
<g clip-path="url(#clip)">
<circle cx="493" cy="546" r="5.5" fill="#ffff00" transform="translate(0,-268)"/>
<use href="#map"/>
</g>
<rect x="141" y="49.4" width="351.9" height="228.2" fill="none" stroke="#333" stroke-width="1"/>
<text class="c" x="488.4" y="254.7" text-anchor="end">from grib files provided by ECMWF</text>
<text class="c2" x="487.2" y="273.9" text-anchor="end">©2026 sb@irizone.net</text>
</g>
<g transform="translate(0,536)">
<text class="t" y="23.9"><tspan x="6.30">IFS</tspan> <tspan x="29.50">-</tspan> <tspan x="38.80" textLength="81.0" lengthAdjust="spacing">Probabilities</tspan> <tspan x="123.85">total</tspan> <tspan x="158.20">precipitation/24h</tspan> <tspan x="270.80">&gt;</tspan> <tspan x="287.40">100</tspan> <tspan x="315.20">mm,</tspan> <tspan x="348.60">Init:</tspan> <tspan x="378.20" textLength="64.1" lengthAdjust="spacing">20260314</tspan> <tspan x="446.40">12z</tspan> <tspan x="473.20">-</tspan> <tspan x="482.00">Valid:</tspan> <tspan x="522.10" textLength="84.0" lengthAdjust="spacing">20260317:12</tspan> <tspan x="610.30">TU</tspan></text>
<rect x="158.70" y="36" width="35.19" height="7" fill="#ffff00"/>
<rect x="193.89" y="36" width="35.19" height="7" fill="#ffd400"/>
<rect x="229.08" y="36" width="35.19" height="7" fill="#ffaa00"/>
<rect x="264.27" y="36" width="35.19" height="7" fill="#ff8c00"/>
<rect x="299.46" y="36" width="35.19" height="7" fill="#ff6600"/>
<rect x="334.64" y="36" width="35.19" height="7" fill="#ff1e00"/>
<rect x="369.83" y="36" width="35.19" height="7" fill="#d40000"/>
<rect x="405.02" y="36" width="35.19" height="7" fill="#9a0000"/>
<rect x="440.21" y="36" width="35.19" height="7" fill="#5f0000"/>
<line x1="193.89" y1="36" x2="193.89" y2="43" stroke="#000" stroke-width="0.9"/>
<line x1="229.08" y1="36" x2="229.08" y2="43" stroke="#000" stroke-width="0.9"/>
<line x1="264.27" y1="36" x2="264.27" y2="43" stroke="#000" stroke-width="0.9"/>
<line x1="299.46" y1="36" x2="299.46" y2="43" stroke="#000" stroke-width="0.9"/>
<line x1="334.64" y1="36" x2="334.64" y2="43" stroke="#000" stroke-width="0.9"/>
<line x1="369.83" y1="36" x2="369.83" y2="43" stroke="#000" stroke-width="0.9"/>
<line x1="405.02" y1="36" x2="405.02" y2="43" stroke="#000" stroke-width="0.9"/>
<line x1="440.21" y1="36" x2="440.21" y2="43" stroke="#000" stroke-width="0.9"/>
<rect x="158.70" y="36" width="316.70" height="7" fill="none" stroke="#000" stroke-width="1.15"/>
<text class="k" x="158.70" y="31.6" text-anchor="middle">10</text>
<text class="k" x="193.89" y="31.6" text-anchor="middle">25</text>
<text class="k" x="229.08" y="31.6" text-anchor="middle">40</text>
<text class="k" x="264.27" y="31.6" text-anchor="middle">50</text>
<text class="k" x="299.46" y="31.6" text-anchor="middle">60</text>
<text class="k" x="334.64" y="31.6" text-anchor="middle">70</text>
<text class="k" x="369.83" y="31.6" text-anchor="middle">80</text>
<text class="k" x="405.02" y="31.6" text-anchor="middle">90</text>
<text class="k" x="440.21" y="31.6" text-anchor="middle">95</text>
<text class="k" x="475.40" y="31.6" text-anchor="middle">100</text>
<g clip-path="url(#clip)">
<use href="#map"/>
</g>
<rect x="141" y="49.4" width="351.9" height="228.2" fill="none" stroke="#333" stroke-width="1"/>
<text class="c" x="488.4" y="254.7" text-anchor="end">from grib files provided by ECMWF</text>
<text class="c2" x="487.2" y="273.9" text-anchor="end">©2026 sb@irizone.net</text>
</g>
</svg></body></html>
